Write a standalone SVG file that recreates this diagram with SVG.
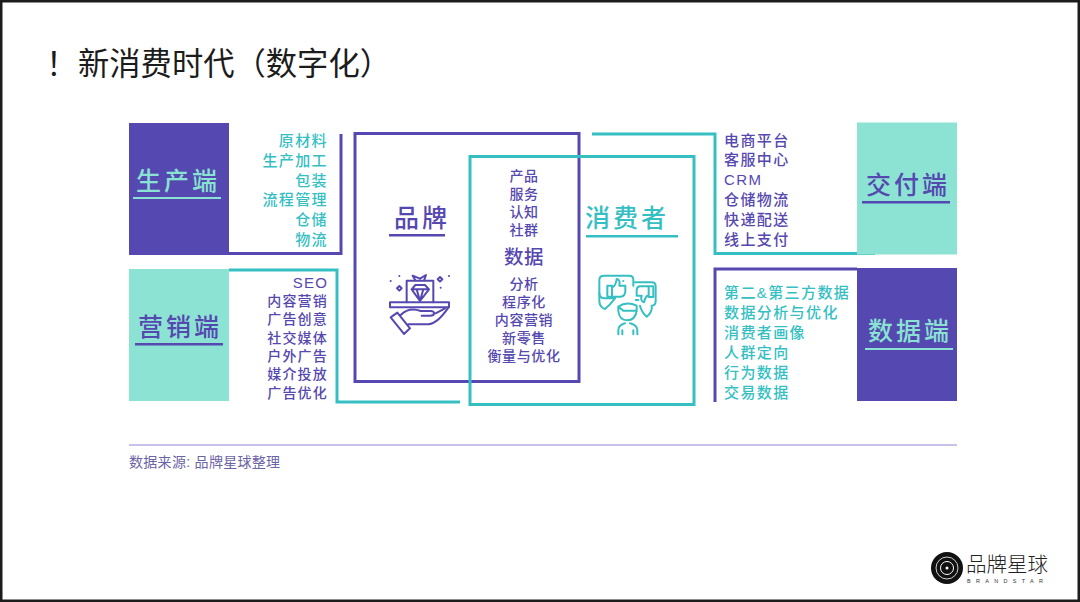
<svg xmlns="http://www.w3.org/2000/svg" width="1080" height="602" viewBox="0 0 1080 602">
<style>
text{font-family:"Liberation Sans","Noto Sans CJK SC",sans-serif;font-weight:500}
.p{fill:#5548b0}.t{fill:#36bfc3}.l{fill:#8ce3d3}
.pt{fill:#5548b0}.tt{fill:#89e2d2}
.big{font-size:25px;letter-spacing:3px;text-anchor:middle}
.li{font-size:15px;letter-spacing:1.4px}
.lm{font-size:14px;letter-spacing:1.2px}
.ce{font-size:14px;letter-spacing:.6px;text-anchor:middle}
.ln{fill:none;stroke-width:3}
.sp{stroke:#5548b0}.st{stroke:#36bfc3}
.ic{fill:none;stroke-width:6;stroke-linejoin:round;stroke-linecap:round}
</style>
<rect width="1080" height="602" fill="#fff"/>
<rect x="1.250" y="1.250" width="1077.500" height="599.500" fill="none" stroke="#1c1c1c" stroke-width="2.500"/>
<g id="title" fill="#1c1c1c">
<text x="46" y="75" font-size="31.500" style="font-weight:400">！</text>
<text x="78" y="75" font-size="31.300" style="font-weight:400">新消费时代（数字化）</text>
</g>

<g id="connectors">
<path class="ln sp" d="M229 253.500H341V134"/>
<path class="ln st" d="M229 270H337V402H460"/>
<path class="ln st" d="M592 134H715V253.500H875"/>
<path class="ln sp" d="M857 269H715V402"/>
</g>

<g id="node-production">
<rect x="129" y="123" width="100" height="132" class="p"/>
<text x="178" y="190" class="big tt">生产端</text>
<rect x="133" y="197" width="88" height="2" fill="#89e2d2"/>
<g class="li t">
<text x="328" y="146" text-anchor="end">原材料</text>
<text x="328" y="166" text-anchor="end">生产加工</text>
<text x="328" y="186" text-anchor="end">包装</text>
<text x="328" y="205" text-anchor="end">流程管理</text>
<text x="328" y="225" text-anchor="end">仓储</text>
<text x="328" y="245" text-anchor="end">物流</text>
</g>
</g>

<g id="node-marketing">
<rect x="129" y="269" width="100" height="132" class="l"/>
<text x="180" y="336" class="big pt">营销端</text>
<rect x="135" y="343" width="88" height="2.500" fill="#5548b0"/>
<g class="lm p">
<text x="328" y="288" text-anchor="end" style="font-size:15px">SEO</text>
<text x="328" y="306" text-anchor="end">内容营销</text>
<text x="328" y="324" text-anchor="end">广告创意</text>
<text x="328" y="343" text-anchor="end">社交媒体</text>
<text x="328" y="361" text-anchor="end">户外广告</text>
<text x="328" y="379" text-anchor="end">媒介投放</text>
<text x="328" y="398" text-anchor="end">广告优化</text>
</g>
</g>

<g id="node-brand">
<rect x="355" y="133.500" width="224" height="248" fill="none" stroke="#5548b0" stroke-width="3"/>
<text x="422" y="227" class="big pt">品牌</text>
<rect x="389" y="234" width="56" height="2.500" fill="#5548b0"/>
<g id="icon-brand" transform="translate(380 265) scale(.3333)" class="ic sp">
<rect x="30" y="112" width="177" height="15"/>
<path d="M80 112V47H160V112M107 47L98 32L120 41L138 30L132 47"/>
<path d="M95 73L106 60H135L147 73L120 108ZM95 73H147M110 73L120 108L130 73"/>
<path d="M58 63L65 70L58 77L51 70ZM180 36L187 43L180 50L173 43Z"/>
<path d="M32 48h.1M58 33h.1M207 33h.1M182 68h.1"/>
<path d="M32 157L52 143L90 190L72 207ZM62 150C80 132 100 130 122 138H152C166 138 166 152 150 152H125M167 145L195 130M85 178H145C170 176 190 150 205 128"/>
</g>
</g>

<g id="node-consumer">
<rect x="470" y="156.500" width="224" height="248" fill="none" stroke="#36bfc3" stroke-width="3"/>
<text x="627" y="227" class="big t">消费者</text>
<rect x="586" y="235" width="92" height="2.500" fill="#36bfc3"/>
<g id="icon-consumer" transform="translate(590 265) scale(.3333)" class="ic st">
<path d="M75 100H45Q28 100 28 85V45Q28 32 42 32H118Q130 32 130 45V62"/>
<path d="M28 85V110Q30 128 45 132Q60 120 75 100"/>
<path d="M135 52H185Q197 52 197 64V108Q197 122 185 122Q188 142 170 155Q155 142 150 122"/>
<path d="M52 62H66V95H52ZM66 68Q78 62 80 42Q92 44 88 62H106V80Q104 95 92 95H66"/>
<path d="M100 48h.1"/>
<path d="M190 64H176V96H190ZM176 90Q166 94 162 112Q150 108 155 92H140V74Q142 64 150 64H176"/>
<path d="M137 105h8"/>
<path d="M85 125Q110 108 140 122V138Q135 166 112 166Q88 166 85 138ZM85 125L100 137H140"/>
<path d="M85 208V196Q85 180 105 175M142 208V196Q142 180 120 175M97 208V196M130 208V196"/>
</g>
</g>

<g id="node-data-core">
<g class="ce p">
<text x="524" y="181">产品</text>
<text x="524" y="199">服务</text>
<text x="524" y="217">认知</text>
<text x="524" y="235">社群</text>
<text x="524" y="264" style="font-size:19.500px">数据</text>
<text x="524" y="289">分析</text>
<text x="524" y="307">程序化</text>
<text x="524" y="325">内容营销</text>
<text x="524" y="343">新零售</text>
<text x="524" y="361">衡量与优化</text>
</g>
</g>

<g id="node-delivery">
<rect x="857" y="122.500" width="100" height="132" class="l"/>
<text x="908" y="194" class="big pt">交付端</text>
<rect x="862" y="201" width="88" height="2.500" fill="#5548b0"/>
<g class="li p">
<text x="724" y="146">电商平台</text>
<text x="724" y="165">客服中心</text>
<text x="724" y="185">CRM</text>
<text x="724" y="205">仓储物流</text>
<text x="724" y="225">快递配送</text>
<text x="724" y="245">线上支付</text>
</g>
</g>

<g id="node-data">
<rect x="857" y="268" width="100" height="133" class="p"/>
<text x="910" y="340" class="big tt">数据端</text>
<rect x="865" y="348" width="88" height="2" fill="#89e2d2"/>
<g class="li t">
<text x="724" y="298">第二&amp;第三方数据</text>
<text x="724" y="318">数据分析与优化</text>
<text x="724" y="338">消费者画像</text>
<text x="724" y="358">人群定向</text>
<text x="724" y="378">行为数据</text>
<text x="724" y="398">交易数据</text>
</g>
</g>

<g id="footer">
<rect x="129" y="444.500" width="828" height="1" fill="#8d86d6"/>
<text x="129" y="467" font-size="14" fill="#6b64a6" style="font-weight:400;letter-spacing:.3px">数据来源: 品牌星球整理</text>
</g>

<g id="logo">
<circle cx="947" cy="568" r="16" fill="#111"/>
<circle cx="947" cy="568" r="11" fill="none" stroke="#fff" stroke-width=".8"/>
<circle cx="947" cy="568" r="6.500" fill="none" stroke="#fff" stroke-width="1"/>
<circle cx="947" cy="568" r="1.500" fill="#fff"/>
<text x="966" y="572" font-size="20.500" fill="#222" style="font-weight:300">品牌星球</text>
<text x="967" y="582.500" font-size="5.500" fill="#333" style="font-weight:400;letter-spacing:5.300px">BRANDSTAR</text>
</g>
</svg>
